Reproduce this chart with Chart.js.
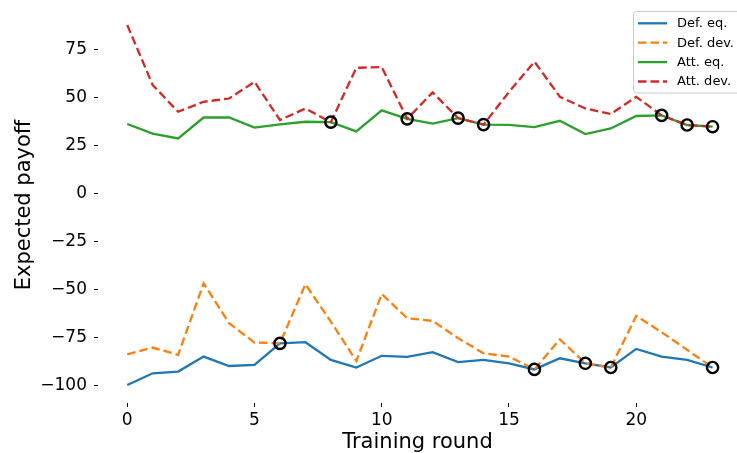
<!DOCTYPE html>
<html>
<head>
<meta charset="utf-8">
<script src="https://cdn.jsdelivr.net/npm/chart.js@4.4.1/dist/chart.umd.min.js"></script>
<style>
    html, body { margin: 0; padding: 0; background: #fff; overflow: hidden; }
    #wrap { width: 737px; height: 453px; position: relative; }
</style>
</head>
<body>
<div id="wrap"><canvas id="payoffChart" width="737" height="453"></canvas></div>
<script>
// Data
const rounds = [0, 1, 2, 3, 4, 5, 6, 7, 8, 9, 10, 11, 12, 13, 14, 15, 16, 17, 18, 19, 20, 21, 22, 23];

const defEq  = [-99.7, -93.6, -92.7, -84.9, -89.8, -89.2, -78.0, -77.4, -86.6, -90.6, -84.5, -85.1,
                -82.6, -87.8, -86.6, -88.4, -91.6, -85.8, -88.4, -90.6, -80.9, -84.9, -86.6, -90.6];
const defDev = [-83.7, -80.2, -84.0, -46.7, -67.5, -77.6, -78.0, -47.2, -66.7, -87.2, -52.3, -64.9,
                -66.3, -75.3, -83.2, -84.9, -91.6, -75.9, -88.4, -90.6, -63.7, -72.2, -81.4, -90.6];
const attEq  = [36.3, 31.3, 28.8, 39.7, 39.7, 34.4, 36.1, 37.5, 37.3, 32.5, 43.4, 39.0,
                36.5, 39.4, 36.0, 35.9, 34.7, 38.0, 31.1, 34.0, 40.5, 40.8, 35.8, 34.9];
const attDev = [87.9, 56.6, 42.7, 47.9, 49.6, 58.3, 38.4, 44.4, 37.3, 65.6, 66.0, 39.0,
                52.8, 39.4, 36.0, 53.0, 68.8, 50.5, 44.4, 41.5, 50.5, 40.8, 35.8, 34.9];

// rounds where the deviation payoff equals the equilibrium payoff (circled)
const defCircled = [6, 16, 18, 19, 23];
const attCircled = [8, 11, 13, 14, 21, 22, 23];

const xTicks = [0, 5, 10, 15, 20];
const yTicks = [-100, -75, -50, -25, 0, 25, 50, 75];

const FONT = "'DejaVu Sans', 'Liberation Sans', sans-serif";

function toPoints(values) {
    return rounds.map((r, i) => ({ x: r, y: values[i] }));
}

function circlePoints(idx, values) {
    return idx.map(i => ({ x: rounds[i], y: values[i] }));
}

function lineSet(label, values, color, dashed, order) {
    return {
        type: 'line',
        label: label,
        data: toPoints(values),
        borderColor: color,
        backgroundColor: color,
        borderWidth: 2.3,
        borderDash: dashed ? [8.5, 4] : [],
        pointRadius: 0,
        tension: 0,
        fill: false,
        order: order
    };
}

function circleSet(idx, values) {
    return {
        type: 'scatter',
        label: '',
        data: circlePoints(idx, values),
        pointRadius: 5.6,
        pointBorderWidth: 2.4,
        pointBorderColor: '#000',
        pointBackgroundColor: 'rgba(0,0,0,0)',
        showLine: false,
        order: 0,
        inLegend: false
    };
}

// Legend box drawn inside the plot, upper right like matplotlib
const boxLegend = {
    id: 'boxLegend',
    afterDatasetsDraw(chart) {
        const c = chart.ctx;
        const items = chart.data.datasets.filter(d => d.inLegend !== false);
        const x0 = 633.5, y0 = 11.5, w = 115, h = 81.5;
        c.save();
        c.beginPath();
        c.roundRect(x0, y0, w, h, 3);
        c.fillStyle = 'rgba(255,255,255,0.8)';
        c.fill();
        c.strokeStyle = '#cccccc';
        c.lineWidth = 1;
        c.stroke();
        c.font = '13px ' + FONT;
        c.textBaseline = 'middle';
        items.forEach((d, i) => {
            const y = 23.3 + i * 19.4;
            c.beginPath();
            c.setLineDash(d.borderDash);
            c.strokeStyle = d.borderColor;
            c.lineWidth = d.borderWidth;
            c.moveTo(638, y);
            c.lineTo(667, y);
            c.stroke();
            c.setLineDash([]);
            c.fillStyle = '#000';
            c.fillText(d.label, 677, y + 0.5);
        });
        c.restore();
    }
};

const ctx = document.getElementById('payoffChart').getContext('2d');
const payoffChart = new Chart(ctx, {
    data: {
        datasets: [
            lineSet('Def. eq.', defEq, '#1f77b4', false, 4),
            lineSet('Def. dev.', defDev, '#ff7f0e', true, 3),
            lineSet('Att. eq.', attEq, '#2ca02c', false, 2),
            lineSet('Att. dev.', attDev, '#d62728', true, 1),
            circleSet(defCircled, defEq),
            circleSet(attCircled, attEq)
        ]
    },
    options: {
        responsive: false,
        animation: false,
        layout: { autoPadding: false, padding: { top: 7, right: 0, bottom: 0, left: 0 } },
        plugins: {
            legend: { display: false },
            tooltip: { enabled: false }
        },
        scales: {
            x: {
                type: 'linear',
                min: -1.15,
                max: 23.96,
                border: { display: false },
                grid: { drawOnChartArea: false, drawTicks: true, tickLength: 4, color: '#000', lineWidth: 1 },
                ticks: {
                    color: '#000',
                    padding: 3,
                    font: { family: FONT, size: 17 },
                    maxRotation: 0
                },
                afterBuildTicks: (scale) => { scale.ticks = xTicks.map(v => ({ value: v })); },
                afterFit: (scale) => {
                    scale.height = 50;
                    scale.paddingLeft = 0;
                    scale.paddingRight = 0;
                },
                title: {
                    display: true,
                    text: 'Training round',
                    color: '#000',
                    font: { family: FONT, size: 21, lineHeight: 1.0 },
                    padding: { top: 0, bottom: 0 }
                }
            },
            y: {
                type: 'linear',
                min: -109.1,
                max: 97.3,
                border: { display: false },
                grid: { drawOnChartArea: false, drawTicks: true, tickLength: 4, color: '#000', lineWidth: 1 },
                ticks: {
                    color: '#000',
                    padding: 7,
                    font: { family: FONT, size: 17 },
                    callback: (v) => String(v).replace('-', '\u2212')
                },
                afterBuildTicks: (scale) => { scale.ticks = yTicks.map(v => ({ value: v })); },
                afterFit: (scale) => {
                    scale.width = 98;
                    scale.paddingTop = 0;
                    scale.paddingBottom = 0;
                },
                title: {
                    display: true,
                    text: 'Expected payoff',
                    color: '#000',
                    font: { family: FONT, size: 21, lineHeight: 1.15 },
                    padding: { top: 12, bottom: 0 }
                }
            }
        }
    },
    plugins: [boxLegend]
});
</script>
</body>
</html>
